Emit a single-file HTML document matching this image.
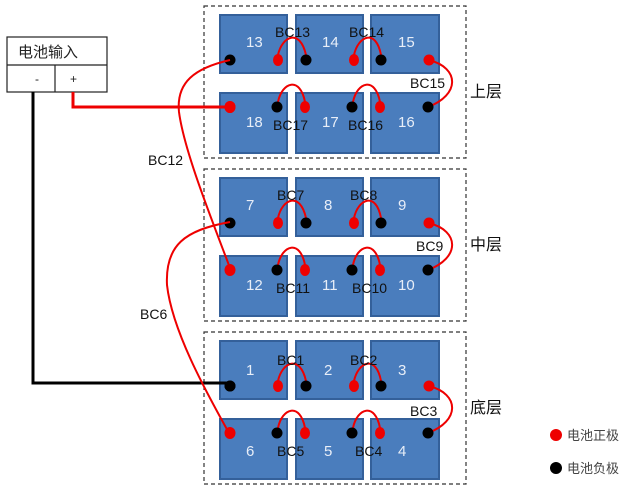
<!DOCTYPE html>
<html><head><meta charset="utf-8"><style>
html,body{margin:0;padding:0;background:#fff;}
svg{display:block}
text{font-family:"Liberation Sans","Noto Sans CJK SC",sans-serif;}
</style></head><body>
<svg width="640" height="489" viewBox="0 0 640 489" xmlns="http://www.w3.org/2000/svg">
<defs>
<g id="layer">
  <rect x="204" y="6" width="262" height="152" fill="none" stroke="#333" stroke-width="1.2" stroke-dasharray="4,3"/>
  <g fill="#4a7dbd" stroke="#34609a" stroke-width="2">
    <rect x="220" y="15" width="67" height="58"/>
    <rect x="296" y="15" width="67" height="58"/>
    <rect x="371" y="15" width="68" height="58"/>
    <rect x="220" y="93" width="67" height="60"/>
    <rect x="296" y="93" width="67" height="60"/>
    <rect x="371" y="93" width="68" height="60"/>
  </g>
  <g fill="none" stroke="#e00" stroke-width="2">
    <path d="M278 55 C282 36,300 28,306 55"/>
    <path d="M354 55 C358 36,376 28,381 55"/>
    <path d="M278 102 C282 82,300 76,305 102"/>
    <path d="M353 102 C357 82,375 76,380 102"/>
    <path d="M429 60 C460 68,460 95,428 107"/>
  </g>
  <g>
    <circle cx="230" cy="60" r="5.5" fill="#000"/>
    <ellipse cx="278" cy="60" rx="5" ry="6" fill="#e00"/>
    <circle cx="306" cy="60" r="5.5" fill="#000"/>
    <ellipse cx="354" cy="60" rx="5" ry="6" fill="#e00"/>
    <circle cx="381" cy="60" r="5.5" fill="#000"/>
    <ellipse cx="429" cy="60" rx="5.5" ry="5.5" fill="#e00"/>
    <ellipse cx="230" cy="107" rx="5.5" ry="6" fill="#e00"/>
    <circle cx="277" cy="107" r="5.5" fill="#000"/>
    <ellipse cx="305" cy="107" rx="5" ry="6" fill="#e00"/>
    <circle cx="352" cy="107" r="5.5" fill="#000"/>
    <ellipse cx="380" cy="107" rx="5" ry="6" fill="#e00"/>
    <circle cx="428" cy="107" r="5.5" fill="#000"/>
  </g>
</g>
</defs>

<use href="#layer"/>
<use href="#layer" transform="translate(0,163)"/>
<use href="#layer" transform="translate(0,326)"/>

<g fill="#e8eef8" font-size="15">
  <text x="246" y="47">13</text><text x="322" y="47">14</text><text x="398" y="47">15</text>
  <text x="246" y="127">18</text><text x="322" y="127">17</text><text x="398" y="127">16</text>
  <text x="246" y="210">7</text><text x="324" y="210">8</text><text x="398" y="210">9</text>
  <text x="246" y="290">12</text><text x="322" y="290">11</text><text x="398" y="290">10</text>
  <text x="246" y="375">1</text><text x="324" y="375">2</text><text x="398" y="375">3</text>
  <text x="246" y="456">6</text><text x="324" y="456">5</text><text x="398" y="456">4</text>
</g>
<g fill="#111" font-size="14">
  <text x="275" y="37">BC13</text><text x="349" y="37">BC14</text><text x="410" y="88">BC15</text>
  <text x="273" y="130">BC17</text><text x="348" y="130">BC16</text>
  <text x="277" y="200">BC7</text><text x="350" y="200">BC8</text><text x="416" y="251">BC9</text>
  <text x="276" y="293">BC11</text><text x="352" y="293">BC10</text>
  <text x="277" y="365">BC1</text><text x="350" y="365">BC2</text><text x="410" y="416">BC3</text>
  <text x="277" y="456">BC5</text><text x="355" y="456">BC4</text>
  <text x="148" y="165">BC12</text><text x="140" y="319">BC6</text>
</g>
<g fill="#111" font-size="16">
  <text x="470" y="97">上层</text><text x="470" y="250">中层</text><text x="470" y="413">底层</text>
</g>

<rect x="7" y="37" width="100" height="55" fill="#fff" stroke="#222" stroke-width="1.2"/>
<line x1="7" y1="65" x2="107" y2="65" stroke="#222" stroke-width="1.2"/>
<line x1="55" y1="65" x2="55" y2="92" stroke="#222" stroke-width="1.2"/>
<text x="18" y="57" font-size="15" fill="#222">电池输入</text>
<text x="35" y="83" font-size="12" fill="#222">-</text>
<text x="70" y="83" font-size="12" fill="#222">+</text>

<path d="M33 92 V383 H230" fill="none" stroke="#000" stroke-width="3"/>
<path d="M73 92 V107 H230" fill="none" stroke="#e00" stroke-width="3"/>
<path d="M230 60 C195 68,176 82,179 112 C184 150,210 215,230 268" fill="none" stroke="#e00" stroke-width="2"/>
<path d="M230 222 C185 230,165 245,167 285 C172 330,205 390,229 433" fill="none" stroke="#e00" stroke-width="2"/>
<circle cx="230" cy="386" r="5.5" fill="#000"/>
<ellipse cx="230" cy="107" rx="5.5" ry="6" fill="#e00"/>

<circle cx="556" cy="435" r="6" fill="#e00"/>
<text x="567" y="440" font-size="13" fill="#444">电池正极</text>
<circle cx="556" cy="468" r="6" fill="#000"/>
<text x="567" y="473" font-size="13" fill="#444">电池负极</text>
</svg>
</body></html>
